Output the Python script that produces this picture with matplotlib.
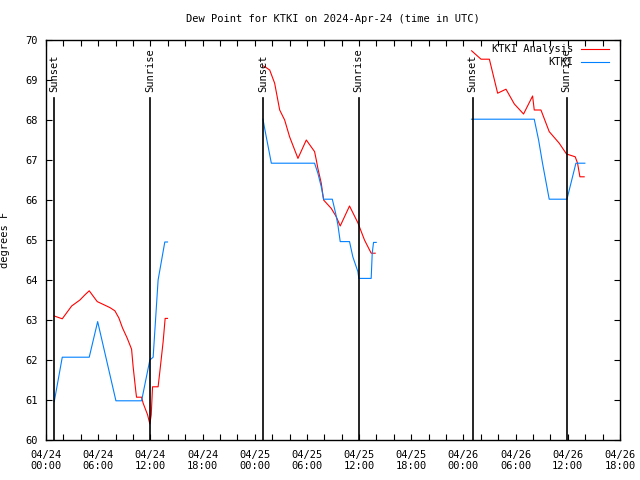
#Dew point chart for KTKI, analysis vs observed
import numpy as np
import matplotlib
matplotlib.use('Agg')
import matplotlib.pyplot as plt
import matplotlib.dates as mdates
from datetime import datetime

#Hours after 2024-04-24 00:00 UTC, nan breaks the line between nights
analysis_hours = [0.95, 1.87, 2.95, 3.9, 4.48, 4.97, 5.89, 6.77, 7.35, 7.92, 8.38, 8.8, 9.33,
                  9.84, 10.02, 10.33, 10.41, 10.99, 11.17, 11.68, 11.94, 12.1, 12.25, 12.89,
                  13.09, 13.47, 13.7, 13.97, np.nan,
                  25.03, 25.72, 26.29, 26.87, 27.44, 28.01, 28.97, 29.93, 30.88, 31.08, 31.26,
                  31.65, 31.92, 32.8, 33.38, 33.83, 34.9, 35.86, 36.62, 37.39, 37.85, np.nan,
                  48.94, 50.02, 50.98, 51.93, 52.89, 53.85, 54.91, 55.95, 56.14, 56.91, 57.86,
                  59.01, 59.85, 60.85, 61.12, 61.39, 61.88]
analysis_dew = [63.1, 63.03, 63.35, 63.5, 63.63, 63.73, 63.46, 63.37, 63.31, 63.23, 63.05, 62.8, 62.55,
                62.27, 61.83, 61.21, 61.07, 61.07, 60.92, 60.63, 60.4, 60.63, 61.33, 61.33,
                61.71, 62.46, 63.04, 63.04, np.nan,
                69.35, 69.25, 68.92, 68.25, 68.0, 67.58, 67.04, 67.5, 67.21, 67.0, 66.79,
                66.42, 66.0, 65.79, 65.58, 65.35, 65.85, 65.43, 65.0, 64.67, 64.67, np.nan,
                69.73, 69.52, 69.52, 68.67, 68.77, 68.4, 68.15, 68.6, 68.25, 68.25, 67.71,
                67.42, 67.15, 67.08, 66.92, 66.58, 66.58]

obs_hours = [0.95, 1.87, 4.97, 5.94, 8.04, 10.99, 11.94, 12.32, 12.89, 13.66, 13.97, np.nan,
             24.95, 25.14, 25.91, 30.88, 31.26, 31.65, 31.92, 32.92, 33.3, 33.56, 33.83, 34.9,
             35.28, 35.86, 35.97, 37.39, 37.51, 37.66, 37.97, np.nan,
             48.94, 56.14, 56.64, 57.09, 57.86, 59.9, 60.36, 60.93, 61.96]
obs_dew = [60.96, 62.07, 62.07, 62.96, 60.98, 60.98, 62.0, 62.07, 64.0, 64.95, 64.95, np.nan,
           68.02, 67.79, 66.92, 66.92, 66.67, 66.33, 66.02, 66.02, 65.67, 65.38, 64.96, 64.96,
           64.58, 64.21, 64.04, 64.04, 64.67, 64.94, 64.94, np.nan,
           68.02, 68.02, 67.5, 66.92, 66.02, 66.02, 66.42, 66.92, 66.92]

sunset_hours = [0.95, 25.0, 49.05]
sunrise_hours = [11.95, 35.95, 59.87]

start = datetime(2024, 4, 24, 0, 0)
t0 = mdates.date2num(start)
def to_dates(h):
    return t0 + np.asarray(h, dtype=float) / 24.0

mono = 'DejaVu Sans Mono'
fs = 7.5
plt.rcParams['font.family'] = mono

fig = plt.figure(figsize=(6.4, 4.8), dpi=100)
ax = fig.add_axes([46/640, 40/480, 574/640, 400/480])

ax.plot(to_dates(analysis_hours), analysis_dew, color='#ff0000', lw=0.8, label='KTKI Analysis')
ax.plot(to_dates(obs_hours), obs_dew, color='#0080ff', lw=0.8, label='KTKI')

#Sunset / sunrise markers
for name, hrs in (('Sunset', sunset_hours), ('Sunrise', sunrise_hours)):
    for h in hrs:
        x = to_dates(h)
        ax.plot([x, x], [60, 68.55], color='black', lw=1.2)
        ax.text(x, 68.7, name, rotation=90, ha='center', va='bottom', fontsize=fs)

ax.set_xlim(t0, t0 + 66/24.0)
ax.set_ylim(60, 70)
ax.set_yticks(np.arange(60, 71, 1))

ax.xaxis.set_major_locator(mdates.HourLocator(byhour=range(0, 24, 6)))
ax.xaxis.set_minor_locator(mdates.HourLocator(byhour=range(0, 24, 2)))
ax.xaxis.set_major_formatter(mdates.DateFormatter('%m/%d\n%H:%M'))

ax.tick_params(which='both', direction='in', top=True, right=True, length=4, width=0.8,
               labelsize=fs)
ax.tick_params(axis='x', pad=7)
ax.tick_params(axis='y', pad=6)
for s in ax.spines.values():
    s.set_linewidth(1.0)

ax.set_title('Dew Point for KTKI on 2024-Apr-24 (time in UTC)', fontsize=fs, pad=13)
ax.set_ylabel('degrees F', fontsize=fs)
ax.yaxis.set_label_coords(-36/574, 0.5)

ax.legend(loc='upper right', bbox_to_anchor=(1 - 7/574, 1.0), frameon=False,
          markerfirst=False, fontsize=fs, handlelength=2.7, handletextpad=0.75,
          labelspacing=0.3, borderaxespad=0.2, borderpad=0.2)

fig.savefig('out.png', dpi=100)
